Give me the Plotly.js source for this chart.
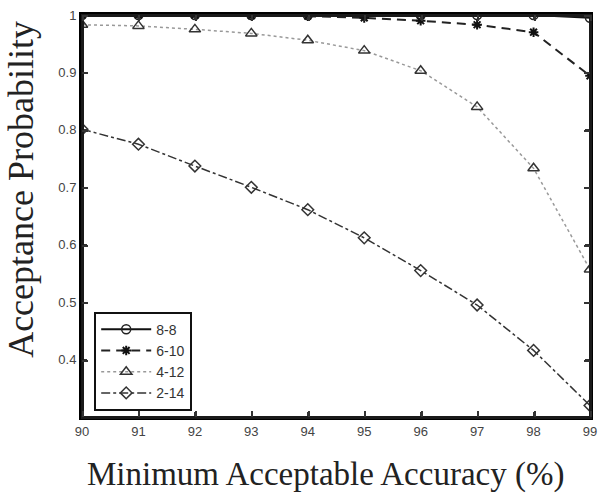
<!DOCTYPE html>
<html>
<head>
<meta charset="utf-8">
<script src="https://cdn.plot.ly/plotly-3.0.1.min.js"></script>
<style>
html,body{margin:0;padding:0;background:#fff;}
#wrap{position:relative;width:598px;height:495px;}
#chart{width:598px;height:495px;}
#overlay{position:absolute;left:0;top:0;width:598px;height:495px;pointer-events:none;}
#frame{position:absolute;left:81px;top:14px;width:510px;height:404px;border:3px solid #1a1a1a;box-sizing:border-box;}
.tk{position:absolute;background:#333;}
</style>
</head>
<body>
<div id="wrap"><div id="chart"></div><div id="overlay"><div id="frame"></div></div></div>
<script>
const accuracy = [90, 91, 92, 93, 94, 95, 96, 97, 98, 99];
const s8_8  = [1.0, 1.0, 1.0, 1.0, 1.0, 1.0, 1.0, 1.0, 1.0, 0.995];
const s6_10 = [1.0, 1.0, 1.0, 0.999, 0.998, 0.995, 0.990, 0.983, 0.970, 0.894];
const s4_12 = [0.983, 0.981, 0.975, 0.968, 0.956, 0.938, 0.903, 0.840, 0.733, 0.557];
const s2_14 = [0.801, 0.775, 0.737, 0.700, 0.661, 0.612, 0.555, 0.495, 0.416, 0.320];
const seriesNames = ['8-8', '6-10', '4-12', '2-14'];
const xTicks = [90, 91, 92, 93, 94, 95, 96, 97, 98, 99];
const yTicks = [0.4, 0.5, 0.6, 0.7, 0.8, 0.9, 1.0];
const yTickText = ['0.4', '0.5', '0.6', '0.7', '0.8', '0.9', '1'];
const xTitle = 'Minimum Acceptable Accuracy (%)';
const yTitle = 'Acceptance Probability';

const traces = [
  {x: accuracy, y: s8_8, name: seriesNames[0], mode: 'lines+markers',
   line: {color: '#111', width: 2, dash: 'solid'},
   marker: {symbol: 'circle-open', size: 9, color: '#222', line: {width: 1.5}}},
  {x: accuracy, y: s6_10, name: seriesNames[1], mode: 'lines+markers',
   line: {color: '#222', width: 2, dash: '9px,6px'},
   marker: {symbol: 'asterisk-open', size: 8, color: '#111', line: {width: 2, color: '#111'}}},
  {x: accuracy, y: s4_12, name: seriesNames[2], mode: 'lines+markers',
   line: {color: '#999', width: 1.5, dash: 'dot'},
   marker: {symbol: 'triangle-up-open', size: 10, color: '#333', line: {width: 1.5}}},
  {x: accuracy, y: s2_14, name: seriesNames[3], mode: 'lines+markers',
   line: {color: '#333', width: 1.5, dash: 'dashdot'},
   marker: {symbol: 'diamond-open', size: 9, color: '#333', line: {width: 1.5}}}
];

const serif = 'Liberation Serif, Times New Roman, serif';
const layout = {
  width: 598, height: 495,
  margin: {l: 82, r: 8, t: 15, b: 78},
  paper_bgcolor: '#fff', plot_bgcolor: '#fff',
  font: {family: 'Liberation Sans, Arial, sans-serif', size: 13, color: '#444'},
  showlegend: true,
  legend: {x: 0.024, y: 0.262, xanchor: 'left', yanchor: 'top',
    bordercolor: '#111', borderwidth: 2, bgcolor: '#fff',
    font: {family: 'Liberation Sans, Arial, sans-serif', size: 14, color: '#333'},
    itemwidth: 50, tracegroupgap: 0},
  xaxis: {
    range: [90, 99], tickvals: xTicks, ticktext: xTicks.map(String),
    ticks: 'inside', ticklen: 5, tickcolor: '#333',
    showline: true, linecolor: 'black', linewidth: 3, mirror: 'ticks',
    showgrid: false, zeroline: false, automargin: false
  },
  yaxis: {
    range: [0.3, 1.0], tickvals: yTicks, ticktext: yTickText,
    ticks: 'inside', ticklen: 5, tickcolor: '#333',
    showline: true, linecolor: 'black', linewidth: 3, mirror: 'ticks',
    showgrid: false, zeroline: false, automargin: false
  },
  annotations: [
    {text: xTitle, xref: 'paper', yref: 'paper', x: 0.48, y: -0.144,
     xanchor: 'center', yanchor: 'middle', showarrow: false,
     font: {family: serif, size: 33, color: '#222'}},
    {text: yTitle, xref: 'paper', yref: 'paper', x: 0, xshift: -61, y: 0.565,
     xanchor: 'center', yanchor: 'middle', showarrow: false, textangle: -90,
     font: {family: serif, size: 36, color: '#222'}}
  ]
};

Plotly.newPlot('chart', traces, layout, {displayModeBar: false, staticPlot: true}).then(function(gd){
  try {
    const fl = gd._fullLayout, sz = fl._size, xa = fl.xaxis, ya = fl.yaxis;
    const ov = document.getElementById('overlay');
    const fr = document.getElementById('frame');
    fr.style.left = (sz.l - 1.5) + 'px'; fr.style.top = (sz.t - 1.5) + 'px';
    fr.style.width = (sz.w + 3) + 'px'; fr.style.height = (sz.h + 3) + 'px';
    const addTick = function(l, t, w, h){ const d = document.createElement('div'); d.className = 'tk';
      d.style.left = l + 'px'; d.style.top = t + 'px'; d.style.width = w + 'px'; d.style.height = h + 'px'; ov.appendChild(d); };
    const L = sz.l, T = sz.t, W = sz.w, H = sz.h, tl = 6;
    xTicks.forEach(function(v){ const px = Math.round(L + xa.l2p(v));
      addTick(px, T + H - tl, 1.5, tl); addTick(px, T, 1.5, tl); });
    yTicks.forEach(function(v){ const py = Math.round(T + ya.l2p(v));
      addTick(L, py, tl, 1.5); addTick(L + W - tl, py, tl, 1.5); });
  } catch (e) {}
});
</script>
</body>
</html>
